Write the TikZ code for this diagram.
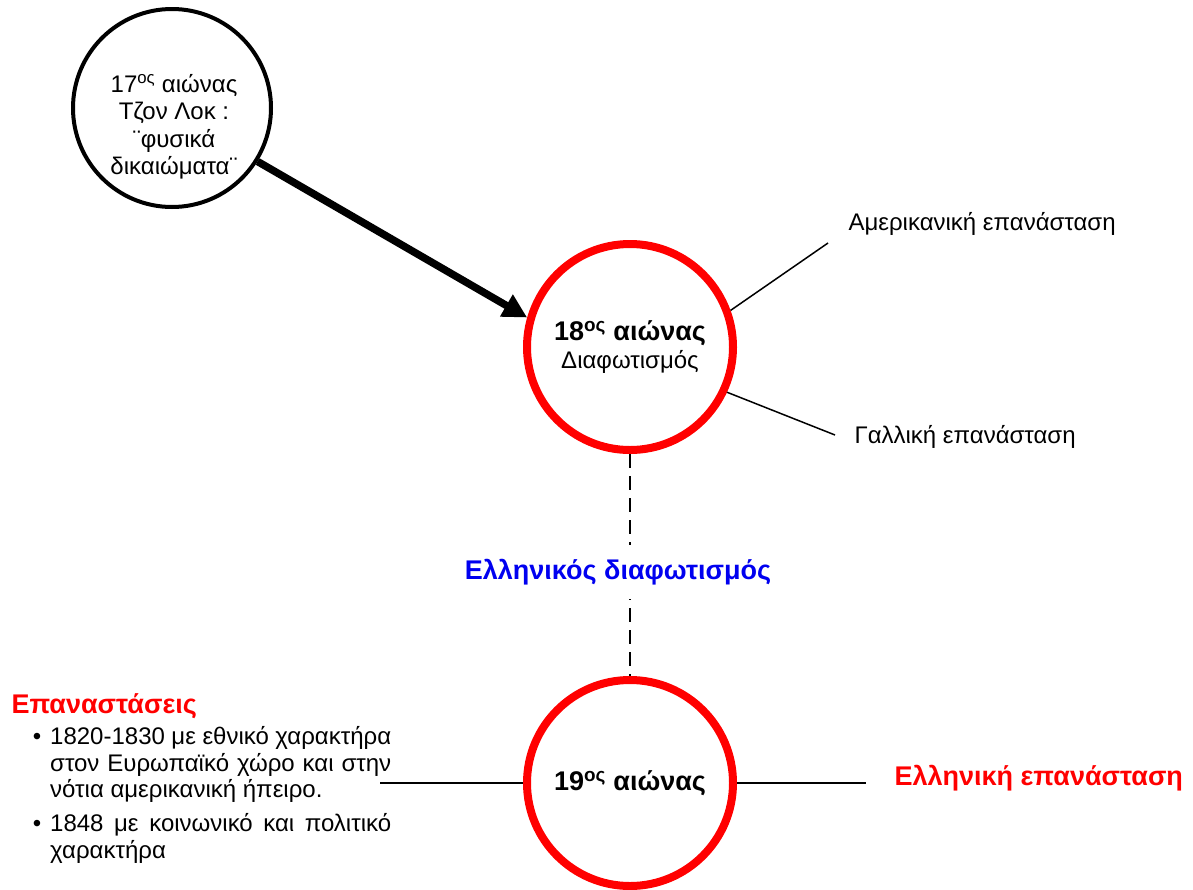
\documentclass[tikz,border=0pt]{standalone}
\usepackage{fontspec}
\setmainfont{Liberation Sans}
\usetikzlibrary{arrows.meta}
\definecolor{myred}{RGB}{255,0,0}
\definecolor{myblue}{RGB}{0,0,240}
\begin{document}
\begin{tikzpicture}[x=1pt,y=-1pt,
  font=\fontsize{24}{28}\selectfont,
  blackcirc/.style={draw, circle, line width=4pt, minimum size=198pt, inner sep=0pt},
  redcirc/.style={draw=myred, circle, line width=8pt, minimum size=206pt, inner sep=0pt, align=center},
  conn/.style={line width=1.5pt},
  bigarrow/.style={line width=7.5pt, -{Triangle[length=24pt,width=24pt]}},
  bold label/.style={font=\fontsize{27}{32}\selectfont\bfseries},
  bullettext/.style={anchor=north west, text width=341pt, align=justify, inner sep=0pt, font=\fontsize{24}{26.3}\selectfont}
]
\useasboundingbox (0,0) rectangle (1193,889);

\node[blackcirc] (c1) at (172,108) {};
\node[align=center, font=\fontsize{24}{27.5}\selectfont] (c1t) at (174,127) {17\textsuperscript{ος} αιώνας\\Τζον Λοκ :\\¨φυσικά\\δικαιώματα¨};
\node[redcirc] (c2) at (630,347) {{\fontsize{27}{33}\selectfont\bfseries 18\textsuperscript{ος} αιώνας}\\Διαφωτισμός};
\node[redcirc] (c3) at (630,783) {{\fontsize{27}{33}\selectfont\bfseries 19\textsuperscript{ος} αιώνας}};

\draw[bigarrow] (c1.-32) -- (c2.164);

\node[anchor=west] (am) at (845,224) {Αμερικανική επανάσταση};
\node[anchor=west] (ga) at (851,437) {Γαλλική επανάσταση};
\coordinate (amend) at (828,243);
\coordinate (gaend) at (835,435);
\draw[conn] (c2.20) -- (amend);
\draw[conn] (c2.-25) -- (gaend);

\draw[line width=1.8pt, dash pattern=on 14pt off 8pt] (c2.south) -- (c3.north);
\node[fill=white, inner xsep=2pt, inner ysep=14pt, text=myblue, bold label] (gd) at (618,572) {Ελληνικός διαφωτισμός};

\coordinate (lend) at (380,783);
\coordinate (rend) at (866,783);
\draw[conn] (lend) -- (c3.west);
\draw[conn] (c3.east) -- (rend);

\node[anchor=west, text=myred, bold label] (ge) at (891,778) {Ελληνική επανάσταση};
\node[anchor=west, text=myred, bold label] (ep) at (8,706) {Επαναστάσεις};

\node (b1) at (37,739) {•};
\node (b2) at (37,826) {•};
\node[bullettext] (t1) at (50,726.5) {1820-1830 με εθνικό χαρακτήρα στον Ευρωπαϊκό χώρο και στην νότια αμερικανική ήπειρο.};
\node[bullettext] (t2) at (50,813.5) {1848 με κοινωνικό και πολιτικό χαρακτήρα};
\end{tikzpicture}
\end{document}
